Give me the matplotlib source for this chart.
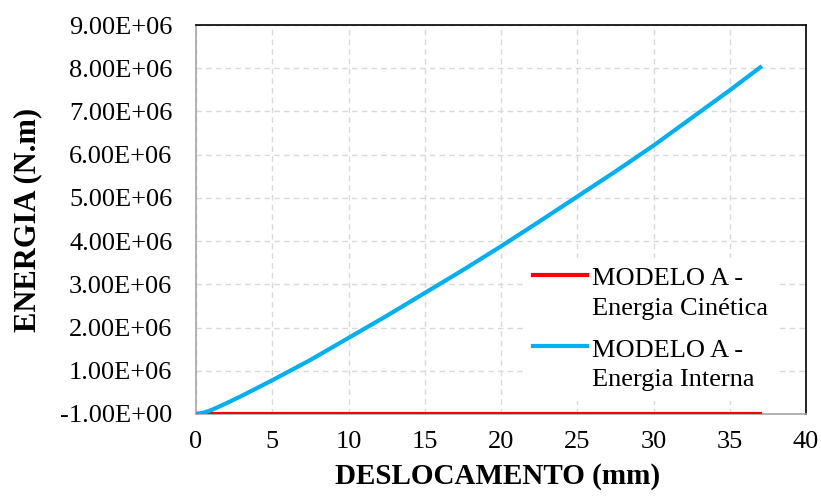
import numpy as np
import matplotlib.pyplot as plt
from matplotlib.legend_handler import HandlerLine2D

# Data #
desloc = [0, 0.5, 1, 2, 3, 5, 7.5, 10, 12.5, 15, 17.5, 20, 22.5, 25, 27.5, 30, 32.5, 35, 37]
e_interna = [0, 0.03e6, 0.09e6, 0.25e6, 0.42e6, 0.78e6, 1.25e6, 1.76e6, 2.27e6, 2.80e6,
             3.33e6, 3.88e6, 4.45e6, 5.03e6, 5.61e6, 6.21e6, 6.85e6, 7.49e6, 8.02e6]
e_cinetica = [0] * len(desloc)

yticks = [0, 1e6, 2e6, 3e6, 4e6, 5e6, 6e6, 7e6, 8e6, 9e6]
ytick_labels = ["-1.00E+00", "1.00E+06", "2.00E+06", "3.00E+06", "4.00E+06",
                "5.00E+06", "6.00E+06", "7.00E+06", "8.00E+06", "9.00E+06"]
xticks = [0, 5, 10, 15, 20, 25, 30, 35, 40]

plt.rcParams["font.family"] = ["Liberation Serif", "DejaVu Serif"]


# legend line sits on the first line of a two-line label (Excel style)
class FirstLineHandler(HandlerLine2D):
    def __init__(self, shift, **kw):
        super().__init__(**kw)
        self.shift = shift

    def create_artists(self, legend, orig_handle, xdescent, ydescent, width, height, fontsize, trans):
        arts = super().create_artists(legend, orig_handle, xdescent, ydescent, width, height, fontsize, trans)
        for a in arts:
            a.set_ydata(np.asarray(a.get_ydata()) + self.shift)
        return arts


fig = plt.figure(figsize=(8.21, 4.99), dpi=100)
ax = fig.add_axes([196 / 821, 1 - 414 / 499, 610 / 821, 389 / 499])

l1, = ax.plot(desloc, e_cinetica, color="#ff0000", lw=3, label="MODELO A -\nEnergia Cinética", zorder=3)
l2, = ax.plot(desloc, e_interna, color="#00b0f0", lw=3, label="MODELO A -\nEnergia Interna", zorder=4)

ax.set_xlim(0, 40)
ax.set_ylim(0, 9e6)
ax.set_xticks(xticks)
ax.set_yticks(yticks)
ax.set_yticklabels(ytick_labels)
ax.tick_params(labelsize=19, length=0)
ax.tick_params(axis="x", pad=12)
ax.tick_params(axis="y", pad=17)

ax.grid(True, color="#d9d9d9", linestyle=(0, (4, 3)), lw=1)
ax.set_axisbelow(True)
for side in ["left", "bottom"]:
    ax.spines[side].set_color("#a6a6a6")
    ax.spines[side].set_linewidth(1.2)
for side in ["top", "right"]:
    ax.spines[side].set_color("black")
    ax.spines[side].set_linewidth(1.2)

ax.set_xlabel("DESLOCAMENTO (mm)", fontsize=21, fontweight="bold")
ax.set_ylabel("ENERGIA (N.m)", fontsize=22, fontweight="bold", va="center")
ax.xaxis.set_label_coords(0.495, -0.126)
ax.yaxis.set_label_coords(-0.2754, 0.5)

fs = 19
ls = 1.42
leg = ax.legend(handles=[l1, l2], loc="upper left", bbox_to_anchor=(0.536, 0.40),
                borderaxespad=0, fontsize=fs, frameon=True, fancybox=False,
                edgecolor="none", facecolor="white", framealpha=1,
                handlelength=2.05, handletextpad=0.2, labelspacing=0.78, borderpad=0.38,
                handler_map={l1: FirstLineHandler(0.5 * ls * fs), l2: FirstLineHandler(0.5 * ls * fs)})
for t in leg.get_texts():
    t.set_linespacing(ls)

fig.savefig("out.png", dpi=100)
